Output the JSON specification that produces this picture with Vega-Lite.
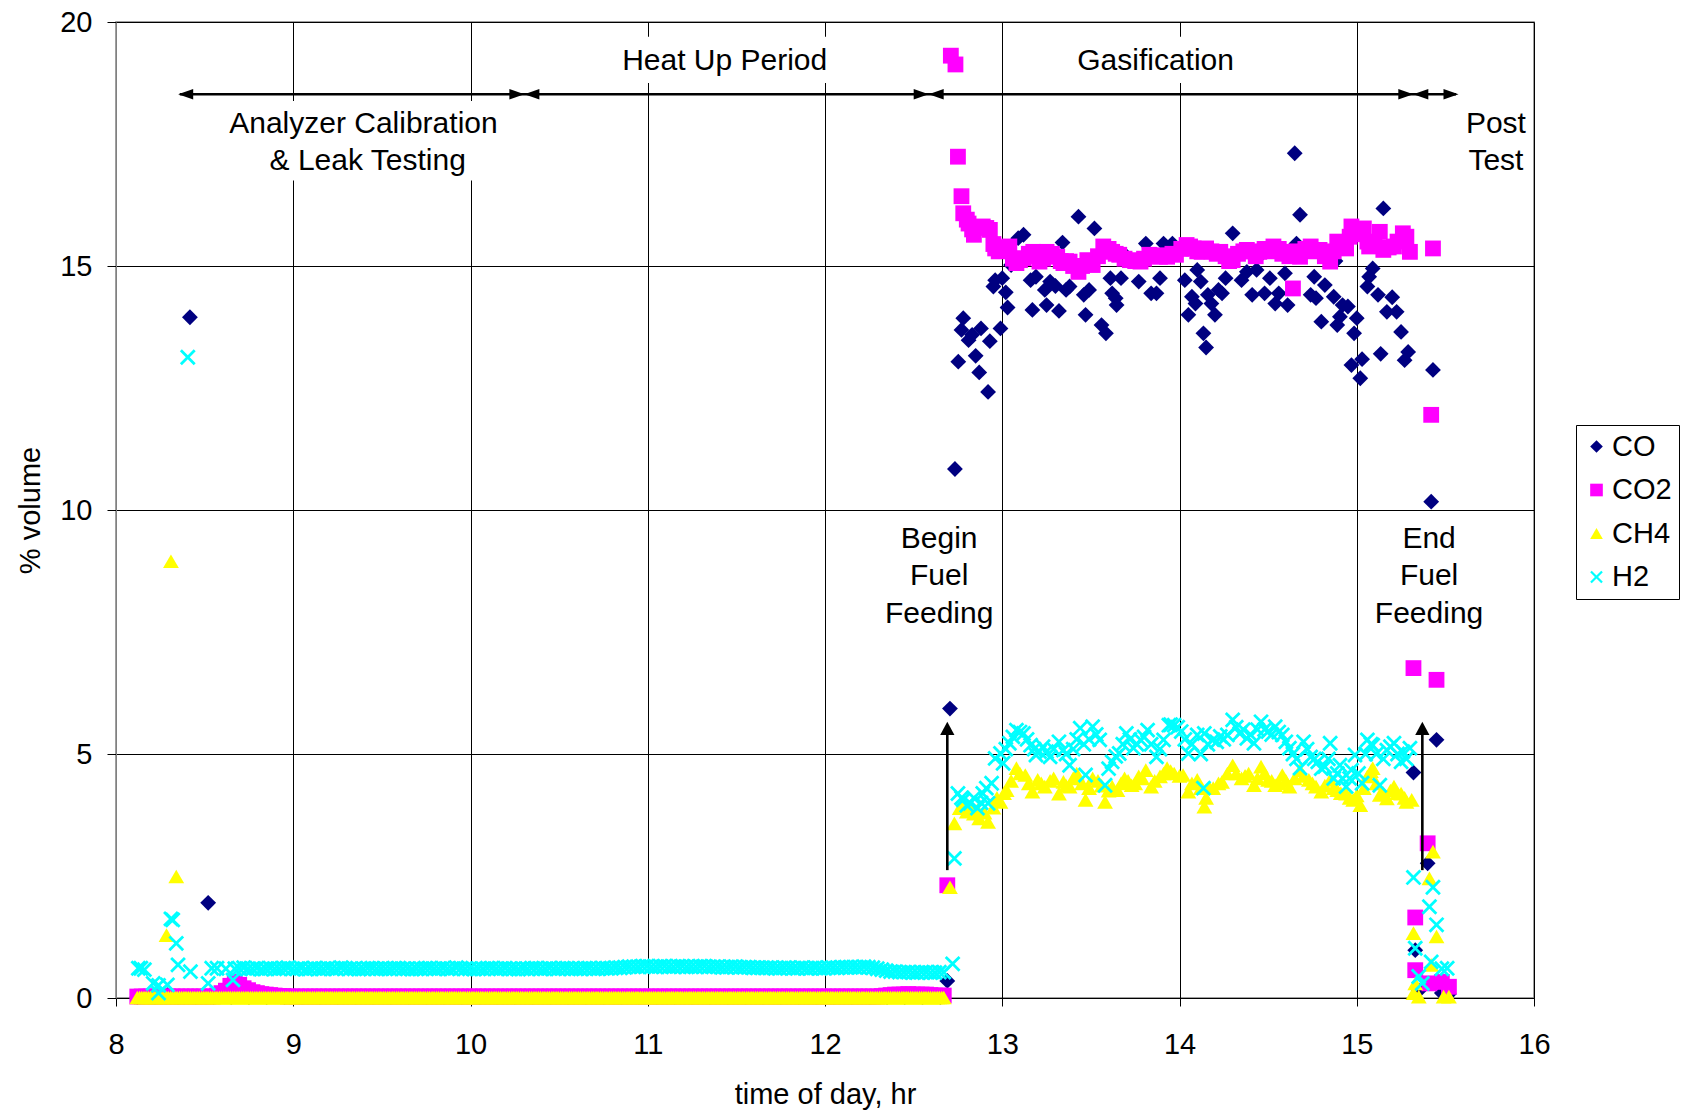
{
"$schema":"https://vega.github.io/schema/vega-lite/v6.json",
"width":1418,"height":976,
"autosize":{"type":"none"},
"padding":{"left":116,"top":22,"right":147,"bottom":114},
"background":"white",
"config":{"font":"Liberation Sans","view":{"stroke":"#808080","strokeWidth":1.5},
"axis":{"labelFont":"Liberation Sans","titleFont":"Liberation Sans","labelFontSize":29,"titleFontSize":29,"titleFontWeight":"normal","labelColor":"#000","titleColor":"#000","tickColor":"#000","gridColor":"#000","gridWidth":1,"gridOpacity":1,"domainColor":"#000"}},
"datasets":{
"gas":[
{"t":8.12,"s":"CO","v":0.02},{"t":8.22,"s":"CO","v":0.02},{"t":8.29,"s":"CO","v":0.06},{"t":8.35,"s":"CO","v":0.02},{"t":8.417,"s":"CO","v":13.95},{"t":8.45,"s":"CO","v":0.02},{"t":8.52,"s":"CO","v":1.95},{"t":8.55,"s":"CO","v":0.02},{"t":8.65,"s":"CO","v":0.02},{"t":8.75,"s":"CO","v":0.02},{"t":8.85,"s":"CO","v":0.02},{"t":8.95,"s":"CO","v":0.02},{"t":9.05,"s":"CO","v":0.02},{"t":9.15,"s":"CO","v":0.02},{"t":9.25,"s":"CO","v":0.02},{"t":9.35,"s":"CO","v":0.02},{"t":9.45,"s":"CO","v":0.02},{"t":9.55,"s":"CO","v":0.02},{"t":9.65,"s":"CO","v":0.02},{"t":9.75,"s":"CO","v":0.02},{"t":9.85,"s":"CO","v":0.02},{"t":9.95,"s":"CO","v":0.02},{"t":10.05,"s":"CO","v":0.02},{"t":10.15,"s":"CO","v":0.02},{"t":10.25,"s":"CO","v":0.02},{"t":10.35,"s":"CO","v":0.02},{"t":10.45,"s":"CO","v":0.02},{"t":10.55,"s":"CO","v":0.02},{"t":10.65,"s":"CO","v":0.02},{"t":10.75,"s":"CO","v":0.02},{"t":10.85,"s":"CO","v":0.02},{"t":10.95,"s":"CO","v":0.02},{"t":11.05,"s":"CO","v":0.02},{"t":11.15,"s":"CO","v":0.02},{"t":11.25,"s":"CO","v":0.02},{"t":11.35,"s":"CO","v":0.02},{"t":11.45,"s":"CO","v":0.02},{"t":11.55,"s":"CO","v":0.02},{"t":11.65,"s":"CO","v":0.02},{"t":11.75,"s":"CO","v":0.02},{"t":11.85,"s":"CO","v":0.02},{"t":11.95,"s":"CO","v":0.02},{"t":12.05,"s":"CO","v":0.02},{"t":12.15,"s":"CO","v":0.02},{"t":12.25,"s":"CO","v":0.02},{"t":12.35,"s":"CO","v":0.02},{"t":12.45,"s":"CO","v":0.02},{"t":12.55,"s":"CO","v":0.02},{"t":12.65,"s":"CO","v":0.02},
{"t":12.69,"s":"CO","v":0.35},{"t":12.705,"s":"CO","v":5.93},{"t":12.733,"s":"CO","v":10.84},{"t":12.752,"s":"CO","v":13.04},{"t":12.77,"s":"CO","v":13.69},{"t":12.78,"s":"CO","v":13.93},{"t":12.81,"s":"CO","v":13.48},{"t":12.83,"s":"CO","v":13.59},{"t":12.85,"s":"CO","v":13.16},{"t":12.87,"s":"CO","v":12.82},{"t":12.88,"s":"CO","v":13.72},{"t":12.92,"s":"CO","v":12.42},{"t":12.93,"s":"CO","v":13.46},{"t":12.95,"s":"CO","v":14.58},{"t":12.96,"s":"CO","v":14.71},{"t":12.99,"s":"CO","v":13.72},{"t":13.0,"s":"CO","v":14.75},{"t":13.02,"s":"CO","v":14.46},{"t":13.03,"s":"CO","v":14.15},{"t":13.05,"s":"CO","v":15.02},{"t":13.09,"s":"CO","v":15.57},{"t":13.12,"s":"CO","v":15.64},{"t":13.16,"s":"CO","v":14.71},{"t":13.17,"s":"CO","v":14.1},{"t":13.19,"s":"CO","v":14.78},{"t":13.24,"s":"CO","v":14.51},{"t":13.25,"s":"CO","v":14.2},{"t":13.27,"s":"CO","v":14.68},{"t":13.3,"s":"CO","v":14.59},{"t":13.32,"s":"CO","v":14.08},{"t":13.34,"s":"CO","v":15.48},{"t":13.36,"s":"CO","v":14.51},{"t":13.38,"s":"CO","v":14.58},{"t":13.43,"s":"CO","v":16.01},{"t":13.46,"s":"CO","v":14.41},{"t":13.47,"s":"CO","v":14.0},{"t":13.49,"s":"CO","v":14.51},{"t":13.52,"s":"CO","v":15.77},{"t":13.56,"s":"CO","v":13.79},{"t":13.585,"s":"CO","v":13.62},{"t":13.61,"s":"CO","v":14.75},{"t":13.62,"s":"CO","v":14.44},{"t":13.64,"s":"CO","v":14.34},{"t":13.645,"s":"CO","v":14.2},{"t":13.67,"s":"CO","v":14.75},{"t":13.7,"s":"CO","v":15.2},{"t":13.77,"s":"CO","v":14.68},{"t":13.81,"s":"CO","v":15.46},{"t":13.84,"s":"CO","v":14.44},{"t":13.87,"s":"CO","v":14.44},{"t":13.89,"s":"CO","v":14.75},{"t":13.91,"s":"CO","v":15.46},{"t":13.96,"s":"CO","v":15.46},{"t":13.99,"s":"CO","v":15.3},{"t":14.03,"s":"CO","v":14.71},{"t":14.05,"s":"CO","v":14.0},{"t":14.07,"s":"CO","v":14.37},{"t":14.09,"s":"CO","v":14.23},{"t":14.1,"s":"CO","v":14.92},{"t":14.12,"s":"CO","v":14.68},{"t":14.135,"s":"CO","v":13.62},{"t":14.15,"s":"CO","v":13.33},{"t":14.16,"s":"CO","v":14.41},{"t":14.18,"s":"CO","v":14.23},{"t":14.2,"s":"CO","v":14.0},{"t":14.22,"s":"CO","v":14.51},{"t":14.24,"s":"CO","v":14.44},{"t":14.26,"s":"CO","v":14.75},{"t":14.28,"s":"CO","v":15.1},{"t":14.3,"s":"CO","v":15.67},{"t":14.35,"s":"CO","v":14.71},{"t":14.38,"s":"CO","v":14.88},{"t":14.41,"s":"CO","v":14.41},{"t":14.435,"s":"CO","v":14.92},{"t":14.45,"s":"CO","v":15.2},{"t":14.48,"s":"CO","v":14.44},{"t":14.51,"s":"CO","v":14.75},{"t":14.54,"s":"CO","v":14.23},{"t":14.56,"s":"CO","v":14.44},{"t":14.595,"s":"CO","v":14.85},{"t":14.61,"s":"CO","v":14.2},{"t":14.65,"s":"CO","v":17.31},{"t":14.66,"s":"CO","v":15.46},{"t":14.68,"s":"CO","v":16.05},{"t":14.74,"s":"CO","v":14.41},{"t":14.76,"s":"CO","v":14.78},{"t":14.77,"s":"CO","v":14.34},{"t":14.8,"s":"CO","v":13.86},{"t":14.82,"s":"CO","v":14.61},{"t":14.87,"s":"CO","v":14.37},{"t":14.88,"s":"CO","v":15.1},{"t":14.89,"s":"CO","v":13.79},{"t":14.905,"s":"CO","v":13.96},{"t":14.92,"s":"CO","v":14.2},{"t":14.95,"s":"CO","v":14.17},{"t":14.97,"s":"CO","v":12.97},{"t":14.985,"s":"CO","v":13.62},{"t":15.0,"s":"CO","v":13.93},{"t":15.02,"s":"CO","v":12.7},{"t":15.03,"s":"CO","v":13.09},{"t":15.06,"s":"CO","v":14.58},{"t":15.07,"s":"CO","v":14.78},{"t":15.09,"s":"CO","v":14.95},{"t":15.12,"s":"CO","v":14.41},{"t":15.135,"s":"CO","v":13.2},{"t":15.15,"s":"CO","v":16.18},{"t":15.17,"s":"CO","v":14.06},{"t":15.2,"s":"CO","v":14.36},{"t":15.225,"s":"CO","v":14.06},{"t":15.25,"s":"CO","v":13.65},{"t":15.27,"s":"CO","v":13.07},{"t":15.29,"s":"CO","v":13.24},{"t":15.32,"s":"CO","v":4.62},{"t":15.33,"s":"CO","v":0.98},{"t":15.35,"s":"CO","v":0.15},{"t":15.4,"s":"CO","v":2.76},{"t":15.42,"s":"CO","v":10.17},{"t":15.43,"s":"CO","v":12.87},{"t":15.45,"s":"CO","v":5.29},{"t":15.48,"s":"CO","v":0.1},{"t":15.52,"s":"CO","v":0.08},
{"t":8.12,"s":"CO2","v":0.03},{"t":8.145,"s":"CO2","v":0.03},{"t":8.17,"s":"CO2","v":0.03},{"t":8.195,"s":"CO2","v":0.03},{"t":8.22,"s":"CO2","v":0.03},{"t":8.245,"s":"CO2","v":0.03},{"t":8.27,"s":"CO2","v":0.03},{"t":8.295,"s":"CO2","v":0.03},{"t":8.32,"s":"CO2","v":0.03},{"t":8.345,"s":"CO2","v":0.03},{"t":8.37,"s":"CO2","v":0.03},{"t":8.395,"s":"CO2","v":0.03},{"t":8.42,"s":"CO2","v":0.03},{"t":8.445,"s":"CO2","v":0.03},{"t":8.47,"s":"CO2","v":0.03},{"t":8.495,"s":"CO2","v":0.03},{"t":8.52,"s":"CO2","v":0.03},{"t":8.545,"s":"CO2","v":0.03},{"t":8.57,"s":"CO2","v":0.05},{"t":8.595,"s":"CO2","v":0.1},{"t":8.62,"s":"CO2","v":0.15},{"t":8.645,"s":"CO2","v":0.25},{"t":8.67,"s":"CO2","v":0.33},{"t":8.695,"s":"CO2","v":0.27},{"t":8.72,"s":"CO2","v":0.2},{"t":8.745,"s":"CO2","v":0.16},{"t":8.77,"s":"CO2","v":0.12},{"t":8.795,"s":"CO2","v":0.1},{"t":8.82,"s":"CO2","v":0.08},{"t":8.845,"s":"CO2","v":0.07},{"t":8.87,"s":"CO2","v":0.06},{"t":8.895,"s":"CO2","v":0.05},{"t":8.92,"s":"CO2","v":0.04},{"t":8.945,"s":"CO2","v":0.04},{"t":8.97,"s":"CO2","v":0.03},{"t":8.995,"s":"CO2","v":0.03},{"t":9.02,"s":"CO2","v":0.03},{"t":9.045,"s":"CO2","v":0.03},{"t":9.07,"s":"CO2","v":0.03},{"t":9.095,"s":"CO2","v":0.03},{"t":9.12,"s":"CO2","v":0.03},{"t":9.145,"s":"CO2","v":0.03},{"t":9.17,"s":"CO2","v":0.03},{"t":9.195,"s":"CO2","v":0.03},{"t":9.22,"s":"CO2","v":0.03},{"t":9.245,"s":"CO2","v":0.03},{"t":9.27,"s":"CO2","v":0.03},{"t":9.295,"s":"CO2","v":0.03},{"t":9.32,"s":"CO2","v":0.03},{"t":9.345,"s":"CO2","v":0.03},{"t":9.37,"s":"CO2","v":0.03},{"t":9.395,"s":"CO2","v":0.03},{"t":9.42,"s":"CO2","v":0.03},{"t":9.445,"s":"CO2","v":0.03},{"t":9.47,"s":"CO2","v":0.03},{"t":9.495,"s":"CO2","v":0.03},{"t":9.52,"s":"CO2","v":0.03},{"t":9.545,"s":"CO2","v":0.03},{"t":9.57,"s":"CO2","v":0.03},{"t":9.595,"s":"CO2","v":0.03},{"t":9.62,"s":"CO2","v":0.03},{"t":9.645,"s":"CO2","v":0.03},{"t":9.67,"s":"CO2","v":0.03},{"t":9.695,"s":"CO2","v":0.03},{"t":9.72,"s":"CO2","v":0.03},{"t":9.745,"s":"CO2","v":0.03},{"t":9.77,"s":"CO2","v":0.03},{"t":9.795,"s":"CO2","v":0.03},{"t":9.82,"s":"CO2","v":0.03},{"t":9.845,"s":"CO2","v":0.03},{"t":9.87,"s":"CO2","v":0.03},{"t":9.895,"s":"CO2","v":0.03},{"t":9.92,"s":"CO2","v":0.03},{"t":9.945,"s":"CO2","v":0.03},{"t":9.97,"s":"CO2","v":0.03},{"t":9.995,"s":"CO2","v":0.03},{"t":10.02,"s":"CO2","v":0.03},{"t":10.045,"s":"CO2","v":0.03},{"t":10.07,"s":"CO2","v":0.03},{"t":10.095,"s":"CO2","v":0.03},{"t":10.12,"s":"CO2","v":0.03},{"t":10.145,"s":"CO2","v":0.03},{"t":10.17,"s":"CO2","v":0.03},{"t":10.195,"s":"CO2","v":0.03},{"t":10.22,"s":"CO2","v":0.03},{"t":10.245,"s":"CO2","v":0.03},{"t":10.27,"s":"CO2","v":0.03},{"t":10.295,"s":"CO2","v":0.03},{"t":10.32,"s":"CO2","v":0.03},{"t":10.345,"s":"CO2","v":0.03},{"t":10.37,"s":"CO2","v":0.03},{"t":10.395,"s":"CO2","v":0.03},{"t":10.42,"s":"CO2","v":0.03},{"t":10.445,"s":"CO2","v":0.03},{"t":10.47,"s":"CO2","v":0.03},{"t":10.495,"s":"CO2","v":0.03},{"t":10.52,"s":"CO2","v":0.03},{"t":10.545,"s":"CO2","v":0.03},{"t":10.57,"s":"CO2","v":0.03},{"t":10.595,"s":"CO2","v":0.03},{"t":10.62,"s":"CO2","v":0.03},{"t":10.645,"s":"CO2","v":0.03},{"t":10.67,"s":"CO2","v":0.03},{"t":10.695,"s":"CO2","v":0.03},{"t":10.72,"s":"CO2","v":0.03},{"t":10.745,"s":"CO2","v":0.03},{"t":10.77,"s":"CO2","v":0.03},{"t":10.795,"s":"CO2","v":0.03},{"t":10.82,"s":"CO2","v":0.03},{"t":10.845,"s":"CO2","v":0.03},{"t":10.87,"s":"CO2","v":0.03},{"t":10.895,"s":"CO2","v":0.03},{"t":10.92,"s":"CO2","v":0.03},{"t":10.945,"s":"CO2","v":0.03},{"t":10.97,"s":"CO2","v":0.03},{"t":10.995,"s":"CO2","v":0.03},{"t":11.02,"s":"CO2","v":0.03},{"t":11.045,"s":"CO2","v":0.03},{"t":11.07,"s":"CO2","v":0.03},{"t":11.095,"s":"CO2","v":0.03},{"t":11.12,"s":"CO2","v":0.03},{"t":11.145,"s":"CO2","v":0.03},{"t":11.17,"s":"CO2","v":0.03},{"t":11.195,"s":"CO2","v":0.03},{"t":11.22,"s":"CO2","v":0.03},{"t":11.245,"s":"CO2","v":0.03},{"t":11.27,"s":"CO2","v":0.03},{"t":11.295,"s":"CO2","v":0.03},{"t":11.32,"s":"CO2","v":0.03},{"t":11.345,"s":"CO2","v":0.03},{"t":11.37,"s":"CO2","v":0.03},{"t":11.395,"s":"CO2","v":0.03},{"t":11.42,"s":"CO2","v":0.03},{"t":11.445,"s":"CO2","v":0.03},{"t":11.47,"s":"CO2","v":0.03},{"t":11.495,"s":"CO2","v":0.03},{"t":11.52,"s":"CO2","v":0.03},{"t":11.545,"s":"CO2","v":0.03},{"t":11.57,"s":"CO2","v":0.03},{"t":11.595,"s":"CO2","v":0.03},{"t":11.62,"s":"CO2","v":0.03},{"t":11.645,"s":"CO2","v":0.03},{"t":11.67,"s":"CO2","v":0.03},{"t":11.695,"s":"CO2","v":0.03},{"t":11.72,"s":"CO2","v":0.03},{"t":11.745,"s":"CO2","v":0.03},{"t":11.77,"s":"CO2","v":0.03},{"t":11.795,"s":"CO2","v":0.03},{"t":11.82,"s":"CO2","v":0.03},{"t":11.845,"s":"CO2","v":0.03},{"t":11.87,"s":"CO2","v":0.03},{"t":11.895,"s":"CO2","v":0.03},{"t":11.92,"s":"CO2","v":0.03},{"t":11.945,"s":"CO2","v":0.03},{"t":11.97,"s":"CO2","v":0.03},{"t":11.995,"s":"CO2","v":0.03},{"t":12.02,"s":"CO2","v":0.03},{"t":12.045,"s":"CO2","v":0.03},{"t":12.07,"s":"CO2","v":0.03},{"t":12.095,"s":"CO2","v":0.03},{"t":12.12,"s":"CO2","v":0.03},{"t":12.145,"s":"CO2","v":0.03},{"t":12.17,"s":"CO2","v":0.03},{"t":12.195,"s":"CO2","v":0.03},{"t":12.22,"s":"CO2","v":0.03},{"t":12.245,"s":"CO2","v":0.03},{"t":12.27,"s":"CO2","v":0.03},{"t":12.295,"s":"CO2","v":0.03},{"t":12.32,"s":"CO2","v":0.04},{"t":12.345,"s":"CO2","v":0.05},{"t":12.37,"s":"CO2","v":0.06},{"t":12.395,"s":"CO2","v":0.07},{"t":12.42,"s":"CO2","v":0.07},{"t":12.445,"s":"CO2","v":0.07},{"t":12.47,"s":"CO2","v":0.08},{"t":12.495,"s":"CO2","v":0.07},{"t":12.52,"s":"CO2","v":0.07},{"t":12.545,"s":"CO2","v":0.07},{"t":12.57,"s":"CO2","v":0.07},{"t":12.595,"s":"CO2","v":0.06},{"t":12.62,"s":"CO2","v":0.05},{"t":12.645,"s":"CO2","v":0.05},{"t":12.67,"s":"CO2","v":0.05},
{"t":12.69,"s":"CO2","v":2.31},{"t":12.71,"s":"CO2","v":19.31},{"t":12.736,"s":"CO2","v":19.13},{"t":12.75,"s":"CO2","v":17.24},{"t":12.77,"s":"CO2","v":16.43},{"t":12.78,"s":"CO2","v":16.08},{"t":12.8,"s":"CO2","v":15.95},{"t":12.81,"s":"CO2","v":15.87},{"t":12.83,"s":"CO2","v":15.75},{"t":12.84,"s":"CO2","v":15.64},{"t":12.86,"s":"CO2","v":15.8},{"t":12.89,"s":"CO2","v":15.81},{"t":12.91,"s":"CO2","v":15.78},{"t":12.93,"s":"CO2","v":15.74},{"t":12.95,"s":"CO2","v":15.45},{"t":12.96,"s":"CO2","v":15.36},{"t":12.98,"s":"CO2","v":15.3},{"t":13.0,"s":"CO2","v":15.33},{"t":13.02,"s":"CO2","v":15.38},{"t":13.04,"s":"CO2","v":15.4},{"t":13.06,"s":"CO2","v":15.15},{"t":13.08,"s":"CO2","v":15.06},{"t":13.1,"s":"CO2","v":15.12},{"t":13.12,"s":"CO2","v":15.16},{"t":13.15,"s":"CO2","v":15.25},{"t":13.175,"s":"CO2","v":15.29},{"t":13.19,"s":"CO2","v":15.2},{"t":13.21,"s":"CO2","v":15.09},{"t":13.23,"s":"CO2","v":15.15},{"t":13.25,"s":"CO2","v":15.29},{"t":13.28,"s":"CO2","v":15.25},{"t":13.31,"s":"CO2","v":15.19},{"t":13.33,"s":"CO2","v":15.1},{"t":13.345,"s":"CO2","v":15.06},{"t":13.36,"s":"CO2","v":15.1},{"t":13.38,"s":"CO2","v":15.09},{"t":13.4,"s":"CO2","v":15.0},{"t":13.43,"s":"CO2","v":14.88},{"t":13.45,"s":"CO2","v":15.0},{"t":13.48,"s":"CO2","v":15.12},{"t":13.51,"s":"CO2","v":15.02},{"t":13.54,"s":"CO2","v":15.2},{"t":13.57,"s":"CO2","v":15.4},{"t":13.6,"s":"CO2","v":15.35},{"t":13.62,"s":"CO2","v":15.29},{"t":13.64,"s":"CO2","v":15.25},{"t":13.66,"s":"CO2","v":15.23},{"t":13.69,"s":"CO2","v":15.15},{"t":13.72,"s":"CO2","v":15.12},{"t":13.75,"s":"CO2","v":15.1},{"t":13.78,"s":"CO2","v":15.09},{"t":13.8,"s":"CO2","v":15.15},{"t":13.83,"s":"CO2","v":15.23},{"t":13.86,"s":"CO2","v":15.2},{"t":13.89,"s":"CO2","v":15.19},{"t":13.91,"s":"CO2","v":15.22},{"t":13.93,"s":"CO2","v":15.19},{"t":13.96,"s":"CO2","v":15.25},{"t":13.98,"s":"CO2","v":15.23},{"t":14.01,"s":"CO2","v":15.35},{"t":14.04,"s":"CO2","v":15.43},{"t":14.06,"s":"CO2","v":15.4},{"t":14.08,"s":"CO2","v":15.36},{"t":14.1,"s":"CO2","v":15.3},{"t":14.125,"s":"CO2","v":15.29},{"t":14.15,"s":"CO2","v":15.36},{"t":14.18,"s":"CO2","v":15.3},{"t":14.21,"s":"CO2","v":15.25},{"t":14.23,"s":"CO2","v":15.29},{"t":14.26,"s":"CO2","v":15.2},{"t":14.28,"s":"CO2","v":15.1},{"t":14.3,"s":"CO2","v":15.12},{"t":14.33,"s":"CO2","v":15.25},{"t":14.36,"s":"CO2","v":15.3},{"t":14.38,"s":"CO2","v":15.33},{"t":14.41,"s":"CO2","v":15.3},{"t":14.43,"s":"CO2","v":15.2},{"t":14.45,"s":"CO2","v":15.29},{"t":14.48,"s":"CO2","v":15.35},{"t":14.5,"s":"CO2","v":15.3},{"t":14.53,"s":"CO2","v":15.4},{"t":14.56,"s":"CO2","v":15.35},{"t":14.58,"s":"CO2","v":15.25},{"t":14.6,"s":"CO2","v":15.29},{"t":14.62,"s":"CO2","v":15.2},{"t":14.64,"s":"CO2","v":14.54},{"t":14.66,"s":"CO2","v":15.3},{"t":14.68,"s":"CO2","v":15.19},{"t":14.71,"s":"CO2","v":15.35},{"t":14.74,"s":"CO2","v":15.4},{"t":14.76,"s":"CO2","v":15.3},{"t":14.79,"s":"CO2","v":15.33},{"t":14.82,"s":"CO2","v":15.2},{"t":14.85,"s":"CO2","v":15.09},{"t":14.87,"s":"CO2","v":15.3},{"t":14.89,"s":"CO2","v":15.5},{"t":14.92,"s":"CO2","v":15.45},{"t":14.94,"s":"CO2","v":15.36},{"t":14.96,"s":"CO2","v":15.6},{"t":14.97,"s":"CO2","v":15.81},{"t":15.0,"s":"CO2","v":15.75},{"t":15.02,"s":"CO2","v":15.65},{"t":15.04,"s":"CO2","v":15.77},{"t":15.06,"s":"CO2","v":15.5},{"t":15.07,"s":"CO2","v":15.4},{"t":15.1,"s":"CO2","v":15.45},{"t":15.13,"s":"CO2","v":15.7},{"t":15.15,"s":"CO2","v":15.33},{"t":15.18,"s":"CO2","v":15.38},{"t":15.21,"s":"CO2","v":15.4},{"t":15.23,"s":"CO2","v":15.5},{"t":15.26,"s":"CO2","v":15.67},{"t":15.28,"s":"CO2","v":15.6},{"t":15.3,"s":"CO2","v":15.29},{"t":15.32,"s":"CO2","v":6.76},{"t":15.33,"s":"CO2","v":1.65},{"t":15.33,"s":"CO2","v":0.57},{"t":15.4,"s":"CO2","v":3.17},{"t":15.41,"s":"CO2","v":0.3},{"t":15.42,"s":"CO2","v":11.95},{"t":15.43,"s":"CO2","v":15.36},{"t":15.45,"s":"CO2","v":6.52},{"t":15.48,"s":"CO2","v":0.33},{"t":15.52,"s":"CO2","v":0.23},
{"t":8.12,"s":"CH4","v":0.01},{"t":8.133,"s":"CH4","v":0.01},{"t":8.145,"s":"CH4","v":0.01},{"t":8.158,"s":"CH4","v":0.01},{"t":8.17,"s":"CH4","v":0.01},{"t":8.183,"s":"CH4","v":0.01},{"t":8.195,"s":"CH4","v":0.01},{"t":8.208,"s":"CH4","v":0.01},{"t":8.22,"s":"CH4","v":0.01},{"t":8.233,"s":"CH4","v":0.01},{"t":8.245,"s":"CH4","v":0.01},{"t":8.258,"s":"CH4","v":0.01},{"t":8.27,"s":"CH4","v":0.01},{"t":8.283,"s":"CH4","v":0.01},{"t":8.295,"s":"CH4","v":0.01},{"t":8.308,"s":"CH4","v":0.01},{"t":8.32,"s":"CH4","v":0.01},{"t":8.333,"s":"CH4","v":0.01},{"t":8.345,"s":"CH4","v":0.01},{"t":8.358,"s":"CH4","v":0.01},{"t":8.37,"s":"CH4","v":0.01},{"t":8.383,"s":"CH4","v":0.01},{"t":8.395,"s":"CH4","v":0.01},{"t":8.408,"s":"CH4","v":0.01},{"t":8.42,"s":"CH4","v":0.01},{"t":8.433,"s":"CH4","v":0.01},{"t":8.445,"s":"CH4","v":0.01},{"t":8.458,"s":"CH4","v":0.01},{"t":8.47,"s":"CH4","v":0.01},{"t":8.483,"s":"CH4","v":0.01},{"t":8.495,"s":"CH4","v":0.01},{"t":8.508,"s":"CH4","v":0.01},{"t":8.52,"s":"CH4","v":0.01},{"t":8.533,"s":"CH4","v":0.01},{"t":8.545,"s":"CH4","v":0.01},{"t":8.558,"s":"CH4","v":0.01},{"t":8.57,"s":"CH4","v":0.01},{"t":8.583,"s":"CH4","v":0.01},{"t":8.595,"s":"CH4","v":0.01},{"t":8.608,"s":"CH4","v":0.01},{"t":8.62,"s":"CH4","v":0.01},{"t":8.633,"s":"CH4","v":0.01},{"t":8.645,"s":"CH4","v":0.01},{"t":8.658,"s":"CH4","v":0.01},{"t":8.67,"s":"CH4","v":0.01},{"t":8.683,"s":"CH4","v":0.01},{"t":8.695,"s":"CH4","v":0.01},{"t":8.708,"s":"CH4","v":0.01},{"t":8.72,"s":"CH4","v":0.01},{"t":8.733,"s":"CH4","v":0.01},{"t":8.745,"s":"CH4","v":0.01},{"t":8.758,"s":"CH4","v":0.01},{"t":8.77,"s":"CH4","v":0.01},{"t":8.783,"s":"CH4","v":0.01},{"t":8.795,"s":"CH4","v":0.01},{"t":8.808,"s":"CH4","v":0.01},{"t":8.82,"s":"CH4","v":0.01},{"t":8.833,"s":"CH4","v":0.01},{"t":8.845,"s":"CH4","v":0.01},{"t":8.858,"s":"CH4","v":0.01},{"t":8.87,"s":"CH4","v":0.01},{"t":8.883,"s":"CH4","v":0.01},{"t":8.895,"s":"CH4","v":0.01},{"t":8.908,"s":"CH4","v":0.01},{"t":8.92,"s":"CH4","v":0.01},{"t":8.933,"s":"CH4","v":0.01},{"t":8.945,"s":"CH4","v":0.01},{"t":8.958,"s":"CH4","v":0.01},{"t":8.97,"s":"CH4","v":0.01},{"t":8.983,"s":"CH4","v":0.01},{"t":8.995,"s":"CH4","v":0.01},{"t":9.008,"s":"CH4","v":0.01},{"t":9.02,"s":"CH4","v":0.01},{"t":9.033,"s":"CH4","v":0.01},{"t":9.045,"s":"CH4","v":0.01},{"t":9.058,"s":"CH4","v":0.01},{"t":9.07,"s":"CH4","v":0.01},{"t":9.083,"s":"CH4","v":0.01},{"t":9.095,"s":"CH4","v":0.01},{"t":9.108,"s":"CH4","v":0.01},{"t":9.12,"s":"CH4","v":0.01},{"t":9.133,"s":"CH4","v":0.01},{"t":9.145,"s":"CH4","v":0.01},{"t":9.158,"s":"CH4","v":0.01},{"t":9.17,"s":"CH4","v":0.01},{"t":9.183,"s":"CH4","v":0.01},{"t":9.195,"s":"CH4","v":0.01},{"t":9.208,"s":"CH4","v":0.01},{"t":9.22,"s":"CH4","v":0.01},{"t":9.233,"s":"CH4","v":0.01},{"t":9.245,"s":"CH4","v":0.01},{"t":9.258,"s":"CH4","v":0.01},{"t":9.27,"s":"CH4","v":0.01},{"t":9.283,"s":"CH4","v":0.01},{"t":9.295,"s":"CH4","v":0.01},{"t":9.308,"s":"CH4","v":0.01},{"t":9.32,"s":"CH4","v":0.01},{"t":9.333,"s":"CH4","v":0.01},{"t":9.345,"s":"CH4","v":0.01},{"t":9.358,"s":"CH4","v":0.01},{"t":9.37,"s":"CH4","v":0.01},{"t":9.383,"s":"CH4","v":0.01},{"t":9.395,"s":"CH4","v":0.01},{"t":9.408,"s":"CH4","v":0.01},{"t":9.42,"s":"CH4","v":0.01},{"t":9.433,"s":"CH4","v":0.01},{"t":9.445,"s":"CH4","v":0.01},{"t":9.458,"s":"CH4","v":0.01},{"t":9.47,"s":"CH4","v":0.01},{"t":9.483,"s":"CH4","v":0.01},{"t":9.495,"s":"CH4","v":0.01},{"t":9.508,"s":"CH4","v":0.01},{"t":9.52,"s":"CH4","v":0.01},{"t":9.533,"s":"CH4","v":0.01},{"t":9.545,"s":"CH4","v":0.01},{"t":9.558,"s":"CH4","v":0.01},{"t":9.57,"s":"CH4","v":0.01},{"t":9.583,"s":"CH4","v":0.01},{"t":9.595,"s":"CH4","v":0.01},{"t":9.608,"s":"CH4","v":0.01},{"t":9.62,"s":"CH4","v":0.01},{"t":9.633,"s":"CH4","v":0.01},{"t":9.645,"s":"CH4","v":0.01},{"t":9.658,"s":"CH4","v":0.01},{"t":9.67,"s":"CH4","v":0.01},{"t":9.683,"s":"CH4","v":0.01},{"t":9.695,"s":"CH4","v":0.01},{"t":9.708,"s":"CH4","v":0.01},{"t":9.72,"s":"CH4","v":0.01},{"t":9.733,"s":"CH4","v":0.01},{"t":9.745,"s":"CH4","v":0.01},{"t":9.758,"s":"CH4","v":0.01},{"t":9.77,"s":"CH4","v":0.01},{"t":9.783,"s":"CH4","v":0.01},{"t":9.795,"s":"CH4","v":0.01},{"t":9.808,"s":"CH4","v":0.01},{"t":9.82,"s":"CH4","v":0.01},{"t":9.833,"s":"CH4","v":0.01},{"t":9.845,"s":"CH4","v":0.01},{"t":9.858,"s":"CH4","v":0.01},{"t":9.87,"s":"CH4","v":0.01},{"t":9.883,"s":"CH4","v":0.01},{"t":9.895,"s":"CH4","v":0.01},{"t":9.908,"s":"CH4","v":0.01},{"t":9.92,"s":"CH4","v":0.01},{"t":9.933,"s":"CH4","v":0.01},{"t":9.945,"s":"CH4","v":0.01},{"t":9.958,"s":"CH4","v":0.01},{"t":9.97,"s":"CH4","v":0.01},{"t":9.983,"s":"CH4","v":0.01},{"t":9.995,"s":"CH4","v":0.01},{"t":10.008,"s":"CH4","v":0.01},{"t":10.02,"s":"CH4","v":0.01},{"t":10.033,"s":"CH4","v":0.01},{"t":10.045,"s":"CH4","v":0.01},{"t":10.058,"s":"CH4","v":0.01},{"t":10.07,"s":"CH4","v":0.01},{"t":10.083,"s":"CH4","v":0.01},{"t":10.095,"s":"CH4","v":0.01},{"t":10.108,"s":"CH4","v":0.01},{"t":10.12,"s":"CH4","v":0.01},{"t":10.133,"s":"CH4","v":0.01},{"t":10.145,"s":"CH4","v":0.01},{"t":10.158,"s":"CH4","v":0.01},{"t":10.17,"s":"CH4","v":0.01},{"t":10.183,"s":"CH4","v":0.01},{"t":10.195,"s":"CH4","v":0.01},{"t":10.208,"s":"CH4","v":0.01},{"t":10.22,"s":"CH4","v":0.01},{"t":10.233,"s":"CH4","v":0.01},{"t":10.245,"s":"CH4","v":0.01},{"t":10.258,"s":"CH4","v":0.01},{"t":10.27,"s":"CH4","v":0.01},{"t":10.283,"s":"CH4","v":0.01},{"t":10.295,"s":"CH4","v":0.01},{"t":10.308,"s":"CH4","v":0.01},{"t":10.32,"s":"CH4","v":0.01},{"t":10.333,"s":"CH4","v":0.01},{"t":10.345,"s":"CH4","v":0.01},{"t":10.358,"s":"CH4","v":0.01},{"t":10.37,"s":"CH4","v":0.01},{"t":10.383,"s":"CH4","v":0.01},{"t":10.395,"s":"CH4","v":0.01},{"t":10.408,"s":"CH4","v":0.01},{"t":10.42,"s":"CH4","v":0.01},{"t":10.433,"s":"CH4","v":0.01},{"t":10.445,"s":"CH4","v":0.01},{"t":10.458,"s":"CH4","v":0.01},{"t":10.47,"s":"CH4","v":0.01},{"t":10.483,"s":"CH4","v":0.01},{"t":10.495,"s":"CH4","v":0.01},{"t":10.508,"s":"CH4","v":0.01},{"t":10.52,"s":"CH4","v":0.01},{"t":10.533,"s":"CH4","v":0.01},{"t":10.545,"s":"CH4","v":0.01},{"t":10.558,"s":"CH4","v":0.01},{"t":10.57,"s":"CH4","v":0.01},{"t":10.583,"s":"CH4","v":0.01},{"t":10.595,"s":"CH4","v":0.01},{"t":10.608,"s":"CH4","v":0.01},{"t":10.62,"s":"CH4","v":0.01},{"t":10.633,"s":"CH4","v":0.01},{"t":10.645,"s":"CH4","v":0.01},{"t":10.658,"s":"CH4","v":0.01},{"t":10.67,"s":"CH4","v":0.01},{"t":10.683,"s":"CH4","v":0.01},{"t":10.695,"s":"CH4","v":0.01},{"t":10.708,"s":"CH4","v":0.01},{"t":10.72,"s":"CH4","v":0.01},{"t":10.733,"s":"CH4","v":0.01},{"t":10.745,"s":"CH4","v":0.01},{"t":10.758,"s":"CH4","v":0.01},{"t":10.77,"s":"CH4","v":0.01},{"t":10.783,"s":"CH4","v":0.01},{"t":10.795,"s":"CH4","v":0.01},{"t":10.808,"s":"CH4","v":0.01},{"t":10.82,"s":"CH4","v":0.01},{"t":10.833,"s":"CH4","v":0.01},{"t":10.845,"s":"CH4","v":0.01},{"t":10.858,"s":"CH4","v":0.01},{"t":10.87,"s":"CH4","v":0.01},{"t":10.883,"s":"CH4","v":0.01},{"t":10.895,"s":"CH4","v":0.01},{"t":10.908,"s":"CH4","v":0.01},{"t":10.92,"s":"CH4","v":0.01},{"t":10.933,"s":"CH4","v":0.01},{"t":10.945,"s":"CH4","v":0.01},{"t":10.958,"s":"CH4","v":0.01},{"t":10.97,"s":"CH4","v":0.01},{"t":10.983,"s":"CH4","v":0.01},{"t":10.995,"s":"CH4","v":0.01},{"t":11.008,"s":"CH4","v":0.01},{"t":11.02,"s":"CH4","v":0.01},{"t":11.033,"s":"CH4","v":0.01},{"t":11.045,"s":"CH4","v":0.01},{"t":11.058,"s":"CH4","v":0.01},{"t":11.07,"s":"CH4","v":0.01},{"t":11.083,"s":"CH4","v":0.01},{"t":11.095,"s":"CH4","v":0.01},{"t":11.108,"s":"CH4","v":0.01},{"t":11.12,"s":"CH4","v":0.01},{"t":11.133,"s":"CH4","v":0.01},{"t":11.145,"s":"CH4","v":0.01},{"t":11.158,"s":"CH4","v":0.01},{"t":11.17,"s":"CH4","v":0.01},{"t":11.183,"s":"CH4","v":0.01},{"t":11.195,"s":"CH4","v":0.01},{"t":11.208,"s":"CH4","v":0.01},{"t":11.22,"s":"CH4","v":0.01},{"t":11.233,"s":"CH4","v":0.01},{"t":11.245,"s":"CH4","v":0.01},{"t":11.258,"s":"CH4","v":0.01},{"t":11.27,"s":"CH4","v":0.01},{"t":11.283,"s":"CH4","v":0.01},{"t":11.295,"s":"CH4","v":0.01},{"t":11.308,"s":"CH4","v":0.01},{"t":11.32,"s":"CH4","v":0.01},{"t":11.333,"s":"CH4","v":0.01},{"t":11.345,"s":"CH4","v":0.01},{"t":11.358,"s":"CH4","v":0.01},{"t":11.37,"s":"CH4","v":0.01},{"t":11.383,"s":"CH4","v":0.01},{"t":11.395,"s":"CH4","v":0.01},{"t":11.408,"s":"CH4","v":0.01},{"t":11.42,"s":"CH4","v":0.01},{"t":11.433,"s":"CH4","v":0.01},{"t":11.445,"s":"CH4","v":0.01},{"t":11.458,"s":"CH4","v":0.01},{"t":11.47,"s":"CH4","v":0.01},{"t":11.483,"s":"CH4","v":0.01},{"t":11.495,"s":"CH4","v":0.01},{"t":11.508,"s":"CH4","v":0.01},{"t":11.52,"s":"CH4","v":0.01},{"t":11.533,"s":"CH4","v":0.01},{"t":11.545,"s":"CH4","v":0.01},{"t":11.558,"s":"CH4","v":0.01},{"t":11.57,"s":"CH4","v":0.01},{"t":11.583,"s":"CH4","v":0.01},{"t":11.595,"s":"CH4","v":0.01},{"t":11.608,"s":"CH4","v":0.01},{"t":11.62,"s":"CH4","v":0.01},{"t":11.633,"s":"CH4","v":0.01},{"t":11.645,"s":"CH4","v":0.01},{"t":11.658,"s":"CH4","v":0.01},{"t":11.67,"s":"CH4","v":0.01},{"t":11.683,"s":"CH4","v":0.01},{"t":11.695,"s":"CH4","v":0.01},{"t":11.708,"s":"CH4","v":0.01},{"t":11.72,"s":"CH4","v":0.01},{"t":11.733,"s":"CH4","v":0.01},{"t":11.745,"s":"CH4","v":0.01},{"t":11.758,"s":"CH4","v":0.01},{"t":11.77,"s":"CH4","v":0.01},{"t":11.783,"s":"CH4","v":0.01},{"t":11.795,"s":"CH4","v":0.01},{"t":11.808,"s":"CH4","v":0.01},{"t":11.82,"s":"CH4","v":0.01},{"t":11.833,"s":"CH4","v":0.01},{"t":11.845,"s":"CH4","v":0.01},{"t":11.858,"s":"CH4","v":0.01},{"t":11.87,"s":"CH4","v":0.01},{"t":11.883,"s":"CH4","v":0.01},{"t":11.895,"s":"CH4","v":0.01},{"t":11.908,"s":"CH4","v":0.01},{"t":11.92,"s":"CH4","v":0.01},{"t":11.933,"s":"CH4","v":0.01},{"t":11.945,"s":"CH4","v":0.01},{"t":11.958,"s":"CH4","v":0.01},{"t":11.97,"s":"CH4","v":0.01},{"t":11.983,"s":"CH4","v":0.01},{"t":11.995,"s":"CH4","v":0.01},{"t":12.008,"s":"CH4","v":0.01},{"t":12.02,"s":"CH4","v":0.01},{"t":12.033,"s":"CH4","v":0.01},{"t":12.045,"s":"CH4","v":0.01},{"t":12.058,"s":"CH4","v":0.01},{"t":12.07,"s":"CH4","v":0.01},{"t":12.083,"s":"CH4","v":0.01},{"t":12.095,"s":"CH4","v":0.01},{"t":12.108,"s":"CH4","v":0.01},{"t":12.12,"s":"CH4","v":0.01},{"t":12.133,"s":"CH4","v":0.01},{"t":12.145,"s":"CH4","v":0.01},{"t":12.158,"s":"CH4","v":0.01},{"t":12.17,"s":"CH4","v":0.01},{"t":12.183,"s":"CH4","v":0.01},{"t":12.195,"s":"CH4","v":0.01},{"t":12.208,"s":"CH4","v":0.01},{"t":12.22,"s":"CH4","v":0.01},{"t":12.233,"s":"CH4","v":0.01},{"t":12.245,"s":"CH4","v":0.01},{"t":12.258,"s":"CH4","v":0.01},{"t":12.27,"s":"CH4","v":0.01},{"t":12.283,"s":"CH4","v":0.01},{"t":12.295,"s":"CH4","v":0.01},{"t":12.308,"s":"CH4","v":0.01},{"t":12.32,"s":"CH4","v":0.01},{"t":12.333,"s":"CH4","v":0.01},{"t":12.345,"s":"CH4","v":0.01},{"t":12.358,"s":"CH4","v":0.01},{"t":12.37,"s":"CH4","v":0.01},{"t":12.383,"s":"CH4","v":0.01},{"t":12.395,"s":"CH4","v":0.01},{"t":12.408,"s":"CH4","v":0.01},{"t":12.42,"s":"CH4","v":0.01},{"t":12.433,"s":"CH4","v":0.01},{"t":12.445,"s":"CH4","v":0.01},{"t":12.458,"s":"CH4","v":0.01},{"t":12.47,"s":"CH4","v":0.01},{"t":12.483,"s":"CH4","v":0.01},{"t":12.495,"s":"CH4","v":0.01},{"t":12.508,"s":"CH4","v":0.01},{"t":12.52,"s":"CH4","v":0.01},{"t":12.533,"s":"CH4","v":0.01},{"t":12.545,"s":"CH4","v":0.01},{"t":12.558,"s":"CH4","v":0.01},{"t":12.57,"s":"CH4","v":0.01},{"t":12.583,"s":"CH4","v":0.01},{"t":12.595,"s":"CH4","v":0.01},{"t":12.608,"s":"CH4","v":0.01},{"t":12.62,"s":"CH4","v":0.01},{"t":12.633,"s":"CH4","v":0.01},{"t":12.645,"s":"CH4","v":0.01},{"t":12.658,"s":"CH4","v":0.01},{"t":12.67,"s":"CH4","v":0.01},
{"t":8.285,"s":"CH4","v":1.29},{"t":8.31,"s":"CH4","v":8.95},{"t":8.34,"s":"CH4","v":2.49},
{"t":12.705,"s":"CH4","v":2.27},{"t":12.73,"s":"CH4","v":3.58},{"t":12.76,"s":"CH4","v":3.89},{"t":12.78,"s":"CH4","v":3.95},{"t":12.8,"s":"CH4","v":3.82},{"t":12.82,"s":"CH4","v":3.9},{"t":12.84,"s":"CH4","v":3.78},{"t":12.86,"s":"CH4","v":3.85},{"t":12.87,"s":"CH4","v":3.68},{"t":12.9,"s":"CH4","v":3.8},{"t":12.92,"s":"CH4","v":3.61},{"t":12.95,"s":"CH4","v":3.9},{"t":12.97,"s":"CH4","v":4.1},{"t":12.99,"s":"CH4","v":4.02},{"t":13.01,"s":"CH4","v":4.2},{"t":13.025,"s":"CH4","v":4.26},{"t":13.05,"s":"CH4","v":4.45},{"t":13.08,"s":"CH4","v":4.71},{"t":13.1,"s":"CH4","v":4.6},{"t":13.13,"s":"CH4","v":4.57},{"t":13.15,"s":"CH4","v":4.4},{"t":13.17,"s":"CH4","v":4.23},{"t":13.2,"s":"CH4","v":4.47},{"t":13.22,"s":"CH4","v":4.4},{"t":13.24,"s":"CH4","v":4.33},{"t":13.27,"s":"CH4","v":4.45},{"t":13.29,"s":"CH4","v":4.5},{"t":13.32,"s":"CH4","v":4.19},{"t":13.345,"s":"CH4","v":4.43},{"t":13.36,"s":"CH4","v":4.35},{"t":13.38,"s":"CH4","v":4.33},{"t":13.4,"s":"CH4","v":4.5},{"t":13.42,"s":"CH4","v":4.6},{"t":13.45,"s":"CH4","v":4.4},{"t":13.47,"s":"CH4","v":4.06},{"t":13.49,"s":"CH4","v":4.3},{"t":13.51,"s":"CH4","v":4.5},{"t":13.54,"s":"CH4","v":4.45},{"t":13.56,"s":"CH4","v":4.35},{"t":13.58,"s":"CH4","v":4.02},{"t":13.6,"s":"CH4","v":4.25},{"t":13.62,"s":"CH4","v":4.33},{"t":13.65,"s":"CH4","v":4.26},{"t":13.67,"s":"CH4","v":4.4},{"t":13.69,"s":"CH4","v":4.5},{"t":13.71,"s":"CH4","v":4.45},{"t":13.73,"s":"CH4","v":4.36},{"t":13.75,"s":"CH4","v":4.4},{"t":13.77,"s":"CH4","v":4.54},{"t":13.79,"s":"CH4","v":4.5},{"t":13.81,"s":"CH4","v":4.67},{"t":13.84,"s":"CH4","v":4.33},{"t":13.86,"s":"CH4","v":4.45},{"t":13.89,"s":"CH4","v":4.54},{"t":13.91,"s":"CH4","v":4.6},{"t":13.93,"s":"CH4","v":4.71},{"t":13.95,"s":"CH4","v":4.65},{"t":13.97,"s":"CH4","v":4.6},{"t":14.0,"s":"CH4","v":4.55},{"t":14.02,"s":"CH4","v":4.57},{"t":14.05,"s":"CH4","v":4.23},{"t":14.07,"s":"CH4","v":4.4},{"t":14.1,"s":"CH4","v":4.47},{"t":14.12,"s":"CH4","v":4.3},{"t":14.14,"s":"CH4","v":3.92},{"t":14.15,"s":"CH4","v":4.1},{"t":14.17,"s":"CH4","v":4.3},{"t":14.19,"s":"CH4","v":4.3},{"t":14.22,"s":"CH4","v":4.4},{"t":14.24,"s":"CH4","v":4.43},{"t":14.27,"s":"CH4","v":4.6},{"t":14.3,"s":"CH4","v":4.77},{"t":14.32,"s":"CH4","v":4.6},{"t":14.35,"s":"CH4","v":4.5},{"t":14.37,"s":"CH4","v":4.55},{"t":14.39,"s":"CH4","v":4.6},{"t":14.42,"s":"CH4","v":4.36},{"t":14.44,"s":"CH4","v":4.5},{"t":14.46,"s":"CH4","v":4.74},{"t":14.48,"s":"CH4","v":4.6},{"t":14.5,"s":"CH4","v":4.47},{"t":14.52,"s":"CH4","v":4.45},{"t":14.54,"s":"CH4","v":4.36},{"t":14.56,"s":"CH4","v":4.4},{"t":14.58,"s":"CH4","v":4.57},{"t":14.6,"s":"CH4","v":4.45},{"t":14.62,"s":"CH4","v":4.33},{"t":14.65,"s":"CH4","v":4.5},{"t":14.68,"s":"CH4","v":4.67},{"t":14.7,"s":"CH4","v":4.55},{"t":14.73,"s":"CH4","v":4.47},{"t":14.75,"s":"CH4","v":4.4},{"t":14.77,"s":"CH4","v":4.33},{"t":14.8,"s":"CH4","v":4.23},{"t":14.82,"s":"CH4","v":4.35},{"t":14.85,"s":"CH4","v":4.47},{"t":14.87,"s":"CH4","v":4.3},{"t":14.89,"s":"CH4","v":4.26},{"t":14.91,"s":"CH4","v":4.2},{"t":14.94,"s":"CH4","v":4.19},{"t":14.96,"s":"CH4","v":4.1},{"t":14.98,"s":"CH4","v":4.06},{"t":15.0,"s":"CH4","v":4.15},{"t":15.02,"s":"CH4","v":3.95},{"t":15.04,"s":"CH4","v":4.3},{"t":15.06,"s":"CH4","v":4.54},{"t":15.08,"s":"CH4","v":4.65},{"t":15.09,"s":"CH4","v":4.71},{"t":15.11,"s":"CH4","v":4.4},{"t":15.13,"s":"CH4","v":4.16},{"t":15.15,"s":"CH4","v":4.2},{"t":15.17,"s":"CH4","v":4.09},{"t":15.19,"s":"CH4","v":4.25},{"t":15.21,"s":"CH4","v":4.33},{"t":15.23,"s":"CH4","v":4.2},{"t":15.25,"s":"CH4","v":4.19},{"t":15.27,"s":"CH4","v":4.1},{"t":15.28,"s":"CH4","v":4.02},{"t":15.31,"s":"CH4","v":4.06},{"t":15.32,"s":"CH4","v":1.33},{"t":15.32,"s":"CH4","v":0.1},{"t":15.33,"s":"CH4","v":0.3},{"t":15.35,"s":"CH4","v":0.03},{"t":15.41,"s":"CH4","v":2.45},{"t":15.42,"s":"CH4","v":0.68},{"t":15.43,"s":"CH4","v":3.0},{"t":15.45,"s":"CH4","v":1.26},{"t":15.49,"s":"CH4","v":0.03},{"t":15.52,"s":"CH4","v":0.03},
{"t":8.126,"s":"H2","v":0.61},{"t":8.14,"s":"H2","v":0.61},{"t":8.16,"s":"H2","v":0.58},{"t":8.21,"s":"H2","v":0.3},{"t":8.24,"s":"H2","v":0.26},{"t":8.24,"s":"H2","v":0.1},{"t":8.29,"s":"H2","v":0.27},{"t":8.31,"s":"H2","v":1.62},{"t":8.32,"s":"H2","v":1.6},{"t":8.34,"s":"H2","v":1.12},{"t":8.35,"s":"H2","v":0.68},{"t":8.405,"s":"H2","v":13.13},{"t":8.42,"s":"H2","v":0.54},{"t":8.52,"s":"H2","v":0.3},{"t":8.54,"s":"H2","v":0.61},{"t":8.57,"s":"H2","v":0.61},{"t":8.62,"s":"H2","v":0.6},{"t":8.66,"s":"H2","v":0.37},
{"t":8.67,"s":"H2","v":0.6},{"t":8.695,"s":"H2","v":0.61},{"t":8.72,"s":"H2","v":0.62},{"t":8.745,"s":"H2","v":0.6},{"t":8.77,"s":"H2","v":0.6},{"t":8.795,"s":"H2","v":0.61},{"t":8.82,"s":"H2","v":0.59},{"t":8.845,"s":"H2","v":0.6},{"t":8.87,"s":"H2","v":0.61},{"t":8.895,"s":"H2","v":0.6},{"t":8.92,"s":"H2","v":0.6},{"t":8.945,"s":"H2","v":0.61},{"t":8.97,"s":"H2","v":0.62},{"t":8.995,"s":"H2","v":0.6},{"t":9.02,"s":"H2","v":0.6},{"t":9.045,"s":"H2","v":0.61},{"t":9.07,"s":"H2","v":0.59},{"t":9.095,"s":"H2","v":0.6},{"t":9.12,"s":"H2","v":0.61},{"t":9.145,"s":"H2","v":0.6},{"t":9.17,"s":"H2","v":0.6},{"t":9.195,"s":"H2","v":0.61},{"t":9.22,"s":"H2","v":0.6},{"t":9.245,"s":"H2","v":0.6},{"t":9.27,"s":"H2","v":0.62},{"t":9.295,"s":"H2","v":0.61},{"t":9.32,"s":"H2","v":0.6},{"t":9.345,"s":"H2","v":0.6},{"t":9.37,"s":"H2","v":0.59},{"t":9.395,"s":"H2","v":0.6},{"t":9.42,"s":"H2","v":0.61},{"t":9.445,"s":"H2","v":0.61},{"t":9.47,"s":"H2","v":0.6},{"t":9.495,"s":"H2","v":0.6},{"t":9.52,"s":"H2","v":0.6},{"t":9.545,"s":"H2","v":0.6},{"t":9.57,"s":"H2","v":0.61},{"t":9.595,"s":"H2","v":0.61},{"t":9.62,"s":"H2","v":0.6},{"t":9.645,"s":"H2","v":0.6},{"t":9.67,"s":"H2","v":0.59},{"t":9.695,"s":"H2","v":0.6},{"t":9.72,"s":"H2","v":0.6},{"t":9.745,"s":"H2","v":0.61},{"t":9.77,"s":"H2","v":0.61},{"t":9.795,"s":"H2","v":0.6},{"t":9.82,"s":"H2","v":0.6},{"t":9.845,"s":"H2","v":0.61},{"t":9.87,"s":"H2","v":0.6},{"t":9.895,"s":"H2","v":0.6},{"t":9.92,"s":"H2","v":0.62},{"t":9.945,"s":"H2","v":0.61},{"t":9.97,"s":"H2","v":0.6},{"t":9.995,"s":"H2","v":0.6},{"t":10.02,"s":"H2","v":0.59},{"t":10.045,"s":"H2","v":0.6},{"t":10.07,"s":"H2","v":0.6},{"t":10.095,"s":"H2","v":0.61},{"t":10.12,"s":"H2","v":0.61},{"t":10.145,"s":"H2","v":0.6},{"t":10.17,"s":"H2","v":0.6},{"t":10.195,"s":"H2","v":0.61},{"t":10.22,"s":"H2","v":0.6},{"t":10.245,"s":"H2","v":0.6},{"t":10.27,"s":"H2","v":0.59},{"t":10.295,"s":"H2","v":0.6},{"t":10.32,"s":"H2","v":0.6},{"t":10.345,"s":"H2","v":0.61},{"t":10.37,"s":"H2","v":0.61},{"t":10.395,"s":"H2","v":0.6},{"t":10.42,"s":"H2","v":0.6},{"t":10.445,"s":"H2","v":0.61},{"t":10.47,"s":"H2","v":0.6},{"t":10.495,"s":"H2","v":0.6},{"t":10.52,"s":"H2","v":0.61},{"t":10.545,"s":"H2","v":0.61},{"t":10.57,"s":"H2","v":0.6},{"t":10.595,"s":"H2","v":0.6},{"t":10.62,"s":"H2","v":0.6},{"t":10.645,"s":"H2","v":0.61},{"t":10.67,"s":"H2","v":0.61},{"t":10.695,"s":"H2","v":0.6},{"t":10.72,"s":"H2","v":0.6},{"t":10.745,"s":"H2","v":0.61},{"t":10.77,"s":"H2","v":0.61},{"t":10.795,"s":"H2","v":0.61},{"t":10.82,"s":"H2","v":0.62},{"t":10.845,"s":"H2","v":0.62},{"t":10.87,"s":"H2","v":0.63},{"t":10.895,"s":"H2","v":0.64},{"t":10.92,"s":"H2","v":0.64},{"t":10.945,"s":"H2","v":0.64},{"t":10.97,"s":"H2","v":0.65},{"t":10.995,"s":"H2","v":0.65},{"t":11.02,"s":"H2","v":0.64},{"t":11.045,"s":"H2","v":0.64},{"t":11.07,"s":"H2","v":0.65},{"t":11.095,"s":"H2","v":0.65},{"t":11.12,"s":"H2","v":0.64},{"t":11.145,"s":"H2","v":0.64},{"t":11.17,"s":"H2","v":0.65},{"t":11.195,"s":"H2","v":0.65},{"t":11.22,"s":"H2","v":0.64},{"t":11.245,"s":"H2","v":0.64},{"t":11.27,"s":"H2","v":0.64},{"t":11.295,"s":"H2","v":0.65},{"t":11.32,"s":"H2","v":0.65},{"t":11.345,"s":"H2","v":0.64},{"t":11.37,"s":"H2","v":0.64},{"t":11.395,"s":"H2","v":0.64},{"t":11.42,"s":"H2","v":0.63},{"t":11.445,"s":"H2","v":0.63},{"t":11.47,"s":"H2","v":0.64},{"t":11.495,"s":"H2","v":0.64},{"t":11.52,"s":"H2","v":0.63},{"t":11.545,"s":"H2","v":0.63},{"t":11.57,"s":"H2","v":0.63},{"t":11.595,"s":"H2","v":0.62},{"t":11.62,"s":"H2","v":0.62},{"t":11.645,"s":"H2","v":0.62},{"t":11.67,"s":"H2","v":0.62},{"t":11.695,"s":"H2","v":0.62},{"t":11.72,"s":"H2","v":0.61},{"t":11.745,"s":"H2","v":0.61},{"t":11.77,"s":"H2","v":0.62},{"t":11.795,"s":"H2","v":0.62},{"t":11.82,"s":"H2","v":0.61},{"t":11.845,"s":"H2","v":0.61},{"t":11.87,"s":"H2","v":0.62},{"t":11.895,"s":"H2","v":0.61},{"t":11.92,"s":"H2","v":0.61},{"t":11.945,"s":"H2","v":0.62},{"t":11.97,"s":"H2","v":0.61},{"t":11.995,"s":"H2","v":0.61},{"t":12.02,"s":"H2","v":0.62},{"t":12.045,"s":"H2","v":0.62},{"t":12.07,"s":"H2","v":0.62},{"t":12.095,"s":"H2","v":0.63},{"t":12.12,"s":"H2","v":0.63},{"t":12.145,"s":"H2","v":0.63},{"t":12.17,"s":"H2","v":0.63},{"t":12.195,"s":"H2","v":0.63},{"t":12.22,"s":"H2","v":0.64},{"t":12.245,"s":"H2","v":0.63},{"t":12.27,"s":"H2","v":0.62},{"t":12.295,"s":"H2","v":0.6},{"t":12.32,"s":"H2","v":0.58},{"t":12.345,"s":"H2","v":0.56},{"t":12.37,"s":"H2","v":0.54},{"t":12.395,"s":"H2","v":0.54},{"t":12.42,"s":"H2","v":0.53},{"t":12.445,"s":"H2","v":0.53},{"t":12.47,"s":"H2","v":0.53},{"t":12.495,"s":"H2","v":0.52},{"t":12.52,"s":"H2","v":0.52},{"t":12.545,"s":"H2","v":0.53},{"t":12.57,"s":"H2","v":0.53},{"t":12.595,"s":"H2","v":0.52},{"t":12.62,"s":"H2","v":0.52},{"t":12.645,"s":"H2","v":0.53},{"t":12.67,"s":"H2","v":0.53},
{"t":12.72,"s":"H2","v":0.7},{"t":12.73,"s":"H2","v":2.86},{"t":12.75,"s":"H2","v":4.19},{"t":12.77,"s":"H2","v":4.1},{"t":12.78,"s":"H2","v":4.06},{"t":12.8,"s":"H2","v":3.95},{"t":12.82,"s":"H2","v":3.99},{"t":12.84,"s":"H2","v":4.1},{"t":12.86,"s":"H2","v":3.89},{"t":12.88,"s":"H2","v":4.0},{"t":12.89,"s":"H2","v":4.19},{"t":12.91,"s":"H2","v":4.3},{"t":12.92,"s":"H2","v":3.99},{"t":12.94,"s":"H2","v":4.4},{"t":12.96,"s":"H2","v":4.91},{"t":12.99,"s":"H2","v":5.01},{"t":13.005,"s":"H2","v":4.81},{"t":13.02,"s":"H2","v":5.1},{"t":13.04,"s":"H2","v":5.22},{"t":13.06,"s":"H2","v":5.35},{"t":13.08,"s":"H2","v":5.49},{"t":13.1,"s":"H2","v":5.45},{"t":13.12,"s":"H2","v":5.42},{"t":13.14,"s":"H2","v":5.3},{"t":13.16,"s":"H2","v":5.18},{"t":13.18,"s":"H2","v":5.1},{"t":13.19,"s":"H2","v":4.98},{"t":13.21,"s":"H2","v":5.05},{"t":13.23,"s":"H2","v":5.15},{"t":13.25,"s":"H2","v":5.05},{"t":13.27,"s":"H2","v":4.94},{"t":13.29,"s":"H2","v":5.1},{"t":13.32,"s":"H2","v":5.25},{"t":13.345,"s":"H2","v":5.08},{"t":13.36,"s":"H2","v":5.0},{"t":13.38,"s":"H2","v":4.77},{"t":13.4,"s":"H2","v":5.1},{"t":13.42,"s":"H2","v":5.3},{"t":13.44,"s":"H2","v":5.53},{"t":13.46,"s":"H2","v":5.2},{"t":13.47,"s":"H2","v":4.57},{"t":13.49,"s":"H2","v":5.3},{"t":13.51,"s":"H2","v":5.56},{"t":13.53,"s":"H2","v":5.4},{"t":13.55,"s":"H2","v":5.29},{"t":13.58,"s":"H2","v":4.36},{"t":13.6,"s":"H2","v":4.7},{"t":13.62,"s":"H2","v":4.84},{"t":13.64,"s":"H2","v":4.95},{"t":13.66,"s":"H2","v":5.01},{"t":13.68,"s":"H2","v":5.2},{"t":13.7,"s":"H2","v":5.42},{"t":13.72,"s":"H2","v":5.3},{"t":13.74,"s":"H2","v":5.12},{"t":13.76,"s":"H2","v":5.2},{"t":13.78,"s":"H2","v":5.29},{"t":13.8,"s":"H2","v":5.35},{"t":13.82,"s":"H2","v":5.49},{"t":13.84,"s":"H2","v":5.2},{"t":13.87,"s":"H2","v":4.94},{"t":13.89,"s":"H2","v":5.1},{"t":13.91,"s":"H2","v":5.29},{"t":13.94,"s":"H2","v":5.59},{"t":13.95,"s":"H2","v":5.6},{"t":13.97,"s":"H2","v":5.59},{"t":13.99,"s":"H2","v":5.55},{"t":14.01,"s":"H2","v":5.46},{"t":14.03,"s":"H2","v":5.3},{"t":14.05,"s":"H2","v":5.01},{"t":14.07,"s":"H2","v":5.2},{"t":14.1,"s":"H2","v":5.39},{"t":14.12,"s":"H2","v":5.0},{"t":14.135,"s":"H2","v":4.3},{"t":14.14,"s":"H2","v":5.42},{"t":14.16,"s":"H2","v":5.2},{"t":14.19,"s":"H2","v":5.29},{"t":14.21,"s":"H2","v":5.25},{"t":14.23,"s":"H2","v":5.36},{"t":14.25,"s":"H2","v":5.3},{"t":14.27,"s":"H2","v":5.39},{"t":14.3,"s":"H2","v":5.7},{"t":14.32,"s":"H2","v":5.55},{"t":14.34,"s":"H2","v":5.42},{"t":14.36,"s":"H2","v":5.5},{"t":14.38,"s":"H2","v":5.32},{"t":14.4,"s":"H2","v":5.4},{"t":14.42,"s":"H2","v":5.22},{"t":14.44,"s":"H2","v":5.5},{"t":14.46,"s":"H2","v":5.66},{"t":14.48,"s":"H2","v":5.5},{"t":14.5,"s":"H2","v":5.46},{"t":14.52,"s":"H2","v":5.4},{"t":14.54,"s":"H2","v":5.56},{"t":14.56,"s":"H2","v":5.45},{"t":14.58,"s":"H2","v":5.39},{"t":14.6,"s":"H2","v":5.25},{"t":14.62,"s":"H2","v":5.12},{"t":14.64,"s":"H2","v":5.0},{"t":14.66,"s":"H2","v":4.9},{"t":14.68,"s":"H2","v":4.71},{"t":14.7,"s":"H2","v":5.25},{"t":14.72,"s":"H2","v":5.1},{"t":14.74,"s":"H2","v":4.94},{"t":14.76,"s":"H2","v":4.9},{"t":14.78,"s":"H2","v":4.84},{"t":14.8,"s":"H2","v":4.7},{"t":14.82,"s":"H2","v":4.74},{"t":14.84,"s":"H2","v":4.9},{"t":14.85,"s":"H2","v":5.22},{"t":14.87,"s":"H2","v":4.5},{"t":14.89,"s":"H2","v":4.6},{"t":14.905,"s":"H2","v":4.77},{"t":14.92,"s":"H2","v":4.5},{"t":14.94,"s":"H2","v":4.33},{"t":14.96,"s":"H2","v":4.5},{"t":14.97,"s":"H2","v":4.67},{"t":14.99,"s":"H2","v":4.98},{"t":15.01,"s":"H2","v":4.6},{"t":15.03,"s":"H2","v":4.4},{"t":15.05,"s":"H2","v":5.0},{"t":15.06,"s":"H2","v":5.29},{"t":15.08,"s":"H2","v":5.2},{"t":15.09,"s":"H2","v":5.18},{"t":15.11,"s":"H2","v":5.0},{"t":15.13,"s":"H2","v":4.36},{"t":15.15,"s":"H2","v":4.9},{"t":15.17,"s":"H2","v":5.08},{"t":15.19,"s":"H2","v":5.15},{"t":15.21,"s":"H2","v":5.22},{"t":15.23,"s":"H2","v":5.0},{"t":15.25,"s":"H2","v":4.84},{"t":15.26,"s":"H2","v":5.05},{"t":15.28,"s":"H2","v":4.9},{"t":15.3,"s":"H2","v":5.12},{"t":15.32,"s":"H2","v":2.47},{"t":15.33,"s":"H2","v":1.02},{"t":15.35,"s":"H2","v":0.44},{"t":15.37,"s":"H2","v":0.3},{"t":15.41,"s":"H2","v":1.87},{"t":15.42,"s":"H2","v":0.74},{"t":15.43,"s":"H2","v":2.27},{"t":15.45,"s":"H2","v":1.5},{"t":15.48,"s":"H2","v":0.6},{"t":15.51,"s":"H2","v":0.61}
],
"boxes":[{"t":8.58,"t2":10.22,"v":16.75,"v2":18.38},{"t":10.82,"t2":12.06,"v":18.75,"v2":19.7},{"t":13.38,"t2":14.36,"v":18.75,"v2":19.7},{"t":15.6,"t2":15.97,"v":16.75,"v2":18.38},{"t":12.3,"t2":12.985,"v":7.4,"v2":9.85},{"t":15.07,"t2":15.75,"v":7.4,"v2":9.85}],
"lines":[{"t":8.36,"t2":15.56,"v":18.52,"v2":18.52},{"t":12.69,"t2":12.69,"v":2.62,"v2":5.5},{"t":15.37,"t2":15.37,"v":2.62,"v2":5.5}],
"heads":[{"t":8.351,"v":18.52,"k":"L"},{"t":10.304,"v":18.52,"k":"L"},{"t":12.585,"v":18.52,"k":"L"},{"t":15.319,"v":18.52,"k":"L"},{"t":10.304,"v":18.52,"k":"R"},{"t":12.585,"v":18.52,"k":"R"},{"t":15.319,"v":18.52,"k":"R"},{"t":15.574,"v":18.52,"k":"R"},{"t":12.69,"v":5.66,"k":"U"},{"t":15.37,"v":5.66,"k":"U"}],
"labels":[{"t":11.434,"v":19.21,"l":"Heat Up Period"},{"t":13.865,"v":19.21,"l":"Gasification"},{"t":9.396,"v":17.92,"l":"Analyzer Calibration"},{"t":9.42,"v":17.15,"l":"& Leak Testing"},{"t":15.785,"v":17.92,"l":"Post"},{"t":15.785,"v":17.15,"l":"Test"},{"t":12.644,"v":9.41,"l":"Begin"},{"t":12.644,"v":8.64,"l":"Fuel"},{"t":12.644,"v":7.87,"l":"Feeding"},{"t":15.408,"v":9.41,"l":"End"},{"t":15.408,"v":8.64,"l":"Fuel"},{"t":15.408,"v":7.87,"l":"Feeding"}]
},
"encoding":{
"x":{"field":"t","type":"quantitative","scale":{"domain":[8,16],"nice":false,"zero":false},"axis":{"values":[8,9,10,11,12,13,14,15,16],"title":"time of day, hr","tickSize":8,"labelPadding":24,"labelFlush":false,"grid":true,"titleY":96,"titleBaseline":"middle"}},
"y":{"field":"v","type":"quantitative","scale":{"domain":[0,20],"nice":false,"zero":false},"axis":{"values":[0,5,10,15,20],"title":"% volume","tickSize":9,"labelPadding":15,"labelFlush":false,"grid":true,"domainColor":"#808080","titleX":-86,"titleY":488,"titleBaseline":"middle","titleAngle":-90}}
},
"layer":[
{"data":{"name":"gas"},
"mark":{"type":"point","filled":true,"opacity":1,"size":250,"strokeWidth":0},
"encoding":{
"color":{"field":"s","type":"nominal","scale":{"domain":["CO","CO2","CH4","H2"],"range":["#000080","#FF00FF","#FFFF00","#00FFFF"]},"legend":{"title":null,"orient":"none","legendX":1460,"legendY":403,"labelFontSize":29,"labelFont":"Liberation Sans","labelColor":"#000","symbolSize":160,"strokeColor":"#000","fillColor":"#fff","padding":7,"rowPadding":13.5,"symbolOffset":-1,"labelOffset":1,"symbolStrokeWidth":0,"symbolOpacity":1}},
"shape":{"field":"s","type":"nominal","scale":{"domain":["CO","CO2","CH4","H2"],"range":["diamond","square","triangle-up","M-1,-0.75L-0.75,-1L0,-0.25L0.75,-1L1,-0.75L0.25,0L1,0.75L0.75,1L0,0.25L-0.75,1L-1,0.75L-0.25,0Z"]},"legend":{"title":null,"orient":"none","legendX":1460,"legendY":403,"labelFontSize":29,"labelFont":"Liberation Sans","labelColor":"#000","symbolSize":160,"strokeColor":"#000","fillColor":"#fff","padding":7,"rowPadding":13.5,"symbolOffset":-1,"labelOffset":1,"symbolStrokeWidth":0,"symbolOpacity":1}}
}},
{"data":{"name":"boxes"},"mark":{"type":"rect","fill":"white","stroke":null},
"encoding":{"x2":{"field":"t2"},"y2":{"field":"v2"}}},
{"data":{"name":"lines"},"mark":{"type":"rule","color":"#000","strokeWidth":2.6},
"encoding":{"x2":{"field":"t2"},"y2":{"field":"v2"}}},
{"data":{"name":"heads"},"transform":[{"filter":"datum.k=='L'"}],"mark":{"type":"point","shape":"M0,0L2,-0.7L2,0.7Z","filled":true,"color":"#000","opacity":1,"size":225,"strokeWidth":0},"encoding":{}},
{"data":{"name":"heads"},"transform":[{"filter":"datum.k=='R'"}],"mark":{"type":"point","shape":"M0,0L-2,-0.7L-2,0.7Z","filled":true,"color":"#000","opacity":1,"size":225,"strokeWidth":0},"encoding":{}},
{"data":{"name":"heads"},"transform":[{"filter":"datum.k=='U'"}],"mark":{"type":"point","shape":"M0,0L-0.95,1.75L0.95,1.75Z","filled":true,"color":"#000","opacity":1,"size":225,"strokeWidth":0},"encoding":{}},
{"data":{"name":"labels"},"mark":{"type":"text","font":"Liberation Sans","fontSize":30,"align":"center","baseline":"middle","color":"#000"},
"encoding":{"text":{"field":"l"}}}
]
}
